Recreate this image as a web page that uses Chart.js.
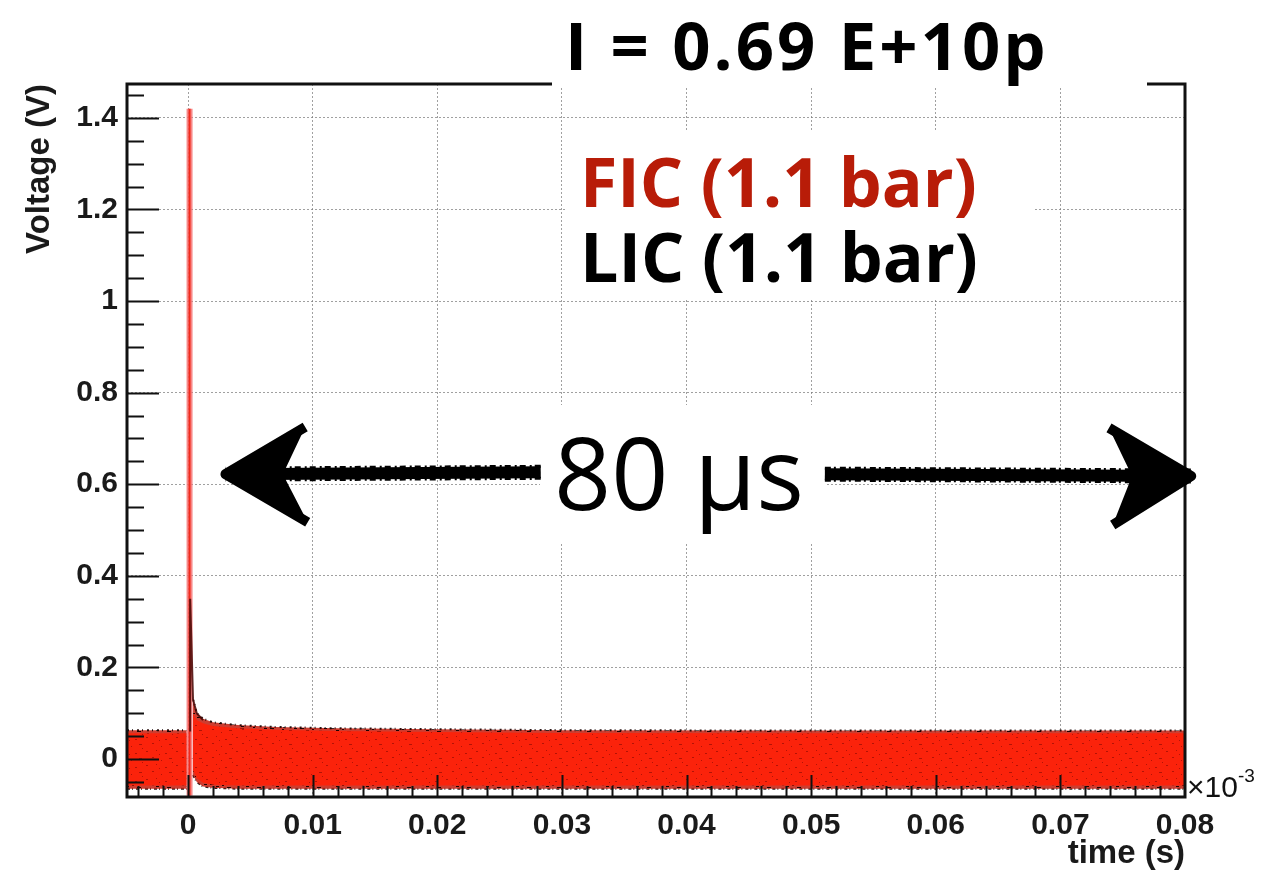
<!DOCTYPE html>
<html>
<head>
<meta charset="utf-8">
<script src="https://cdn.jsdelivr.net/npm/chart.js@4.4.1/dist/chart.umd.min.js"></script>
<style>
  html, body { margin: 0; padding: 0; background: #fff; }
  canvas { display: block; }
</style>
</head>
<body>
<canvas id="scope-chart" width="1283" height="874"></canvas>
<script>

// axes: time in units of 1e-3 s, voltage in V
var xTicks = [0, 0.01, 0.02, 0.03, 0.04, 0.05, 0.06, 0.07, 0.08];
var xTickLabels = ['0', '0.01', '0.02', '0.03', '0.04', '0.05', '0.06', '0.07', '0.08'];
var yTicks = [0, 0.2, 0.4, 0.6, 0.8, 1, 1.2, 1.4];
var yTickLabels = ['0', '0.2', '0.4', '0.6', '0.8', '1', '1.2', '1.4'];

// FIC trace: noise envelope before and after the beam pulse, plus the prompt peak
var ficBaseTime  = [-0.0049, -0.0001];
var ficBaseUpper = [0.056, 0.056];
var ficBaseLower = [-0.058, -0.058];
var ficTailTime  = [0.0004, 0.0007, 0.0012, 0.002, 0.004, 0.007, 0.012, 0.02, 0.03, 0.05, 0.08];
var ficTailUpper = [0.100, 0.085, 0.078, 0.072, 0.067, 0.064, 0.061, 0.059, 0.057, 0.056, 0.056];
var ficTailLower = [-0.025, -0.042, -0.052, -0.056, -0.058, -0.058, -0.058, -0.058, -0.058, -0.058, -0.058];
var ficPeakTime  = [0.00012, 0.00012];
var ficPeakVolt  = [-0.08, 1.42];

// LIC trace
var licBaseTime  = [-0.0049, -0.0001];
var licBaseUpper = [0.063, 0.063];
var licBaseLower = [-0.065, -0.065];
var licTailTime  = [0.0004, 0.0007, 0.0012, 0.002, 0.004, 0.007, 0.012, 0.02, 0.03, 0.05, 0.08];
var licTailUpper = [0.130, 0.100, 0.088, 0.080, 0.074, 0.070, 0.067, 0.065, 0.063, 0.062, 0.062];
var licTailLower = [-0.035, -0.050, -0.060, -0.063, -0.065, -0.065, -0.065, -0.065, -0.065, -0.065, -0.065];
var licPeakTime  = [0.00017, 0.00017, 0.0004, 0.0007, 0.0012];
var licPeakVolt  = [0.06, 0.35, 0.13, 0.10, 0.085];

var FIC_RED = '#fb230b';

// speckled fills so the overlapping traces read as dense noise
function speckle(base, dot, spots) {
  var c = document.createElement('canvas');
  c.width = 30; c.height = 14;
  var g = c.getContext('2d');
  g.fillStyle = base;
  g.fillRect(0, 0, c.width, c.height);
  g.fillStyle = dot;
  spots.forEach(function (s) { g.fillRect(s[0], s[1], s[2], 1); });
  return g.createPattern(c, 'repeat');
}
var ficFill = speckle(FIC_RED, 'rgba(90,0,0,0.45)',
  [[2, 1, 2], [11, 4, 1], [19, 2, 3], [26, 9, 2], [6, 8, 1], [15, 11, 2], [22, 6, 1], [9, 12, 1]]);
var licFill = speckle('rgba(200,40,25,0.9)', 'rgba(20,0,0,0.95)',
  [[0, 0, 4], [6, 2, 3], [12, 1, 2], [17, 3, 4], [24, 0, 3], [3, 7, 2], [9, 9, 3], [15, 6, 2], [21, 10, 3], [27, 5, 2], [1, 12, 3], [13, 13, 2]]);

function pts(t, v) {
  return t.map(function (x, i) { return {x: x, y: v[i]}; });
}

function band(t, up, lo, fill, edge, order) {
  return [
    {data: pts(t, up), borderWidth: edge ? 2 : 0, borderColor: edge, borderDash: [2, 3, 1, 4], backgroundColor: fill, fill: '+1', order: order},
    {data: pts(t, lo), borderWidth: edge ? 2 : 0, borderColor: edge, borderDash: [3, 2, 1, 3], fill: false, order: order}
  ];
}

var datasets = []
  .concat(band(licBaseTime, licBaseUpper, licBaseLower, licFill, 'rgba(25,0,0,0.9)', 5))
  .concat(band(licTailTime, licTailUpper, licTailLower, licFill, 'rgba(25,0,0,0.9)', 5))
  .concat(band(ficBaseTime, ficBaseUpper, ficBaseLower, ficFill, null, 4))
  .concat(band(ficTailTime, ficTailUpper, ficTailLower, ficFill, null, 4));

// peak: pale halo, then bright core, then the darker LIC pulse on top
datasets.push({data: pts(ficPeakTime, ficPeakVolt), borderColor: 'rgba(246,115,115,0.85)', borderWidth: 6, fill: false, order: 3});
datasets.push({data: pts(ficPeakTime, ficPeakVolt), borderColor: '#f22a1c', borderWidth: 2, fill: false, order: 2});
datasets.push({data: pts(licPeakTime, licPeakVolt), borderColor: 'rgba(70,8,6,0.85)', borderWidth: 2, fill: false, order: 1});

datasets.forEach(function (d) {
  d.pointRadius = 0;
  d.tension = 0;
});

var frameAndTicks = {
  id: 'frameAndTicks',
  afterDatasetsDraw: function (chart) {
    var ctx = chart.ctx, a = chart.chartArea;
    var xs = chart.scales.x, ys = chart.scales.y;
    ctx.save();
    ctx.strokeStyle = '#111';
    ctx.lineWidth = 2;
    ctx.beginPath();
    var i, v, px, len;
    for (i = -2; i <= 40; i++) {
      v = i * 0.002;
      px = Math.round(xs.getPixelForValue(v)) + 0.5;
      if (px < a.left || px > a.right) continue;
      len = (i % 5 === 0) ? 22 : 11;
      ctx.moveTo(px, a.bottom);
      ctx.lineTo(px, a.bottom - len);
    }
    for (i = -1; i <= 29; i++) {
      v = i * 0.05;
      px = Math.round(ys.getPixelForValue(v)) + 0.5;
      if (px < a.top || px > a.bottom) continue;
      len = (i % 4 === 0) ? 32 : 17;
      ctx.moveTo(a.left, px);
      ctx.lineTo(a.left + len, px);
    }
    ctx.stroke();
    ctx.lineWidth = 3;
    ctx.strokeRect(a.left, a.top, a.right - a.left, a.bottom - a.top);
    ctx.restore();
  }
};

// marker-pen double arrow: thick shaft, ragged edges, filled notched head
function roughArrow(ctx, tip, tail, wingA, wingB) {
  ctx.save();
  ctx.strokeStyle = '#000';
  ctx.fillStyle = '#000';
  ctx.lineCap = 'butt';
  ctx.lineJoin = 'round';
  ctx.lineWidth = 12;
  ctx.beginPath();
  ctx.moveTo(tail.x, tail.y);
  ctx.lineTo(tip.x, tip.y);
  ctx.stroke();
  ctx.lineWidth = 3;
  ctx.setLineDash([6, 3, 2, 4]);
  ctx.beginPath();
  ctx.moveTo(tail.x, tail.y - 6);
  ctx.lineTo(tip.x, tip.y - 6);
  ctx.moveTo(tail.x, tail.y + 6);
  ctx.lineTo(tip.x, tip.y + 6);
  ctx.stroke();
  ctx.setLineDash([]);
  ctx.lineWidth = 10;
  ctx.beginPath();
  ctx.moveTo(wingA.x, wingA.y);
  ctx.lineTo(tip.x, tip.y);
  ctx.lineTo(wingB.x, wingB.y);
  ctx.stroke();
  ctx.beginPath();
  ctx.moveTo(tip.x, tip.y);
  ctx.lineTo(wingA.x, wingA.y);
  ctx.lineTo(tip.x + (wingA.x - tip.x) * 0.72, tip.y);
  ctx.lineTo(wingB.x, wingB.y);
  ctx.closePath();
  ctx.fill();
  ctx.restore();
}

var overlay = {
  id: 'overlay',
  afterDraw: function (chart) {
    var ctx = chart.ctx, a = chart.chartArea;
    var xs = chart.scales.x, ys = chart.scales.y;
    function p(t, v) { return {x: xs.getPixelForValue(t), y: ys.getPixelForValue(v)}; }

    ctx.save();
    // white label boxes
    ctx.fillStyle = '#fff';
    ctx.fillRect(552, 0, 595, 88);
    ctx.fillRect(565, 130, 470, 168);
    ctx.fillRect(540, 405, 285, 137);

    ctx.textBaseline = 'alphabetic';
    ctx.textAlign = 'left';
    ctx.fillStyle = '#000';
    ctx.font = 'bold 67px "Open Sans"';
    ctx.letterSpacing = '3px';
    ctx.fillText('I = 0.69 E+10p', 565, 70);
    ctx.letterSpacing = '0px';

    ctx.font = 'bold 68px "Open Sans"';
    ctx.fillStyle = '#b81c08';
    ctx.fillText('FIC (1.1 bar)', 580, 207);
    ctx.fillStyle = '#000';
    ctx.fillText('LIC (1.1 bar)', 580, 282);

    ctx.font = '100px "Open Sans"';
    ctx.fillText('80 \u03bcs', 554, 510);

    // axis multiplier
    ctx.font = '30px "Liberation Sans"';
    ctx.fillStyle = '#111';
    ctx.fillText('\u00d710', a.right + 2, 797);
    var w = ctx.measureText('\u00d710').width;
    ctx.font = '19px "Liberation Sans"';
    ctx.fillText('-3', a.right + 2 + w, 782);
    ctx.restore();

    roughArrow(ctx, p(0.0030, 0.622), p(0.0283, 0.626), p(0.0094, 0.725), p(0.0096, 0.517));
    roughArrow(ctx, p(0.0805, 0.618), p(0.0511, 0.622), p(0.0739, 0.723), p(0.0742, 0.511));
  }
};

var chart = new Chart(document.getElementById('scope-chart'), {
  type: 'line',
  data: {datasets: datasets},
  options: {
    responsive: false,
    animation: false,
    devicePixelRatio: 1,
    layout: {padding: {top: 84, right: 98, left: 0, bottom: 0}},
    plugins: {legend: {display: false}, tooltip: {enabled: false}},
    scales: {
      x: {
        type: 'linear',
        min: -0.0049,
        max: 0.08,
        afterBuildTicks: function (s) { s.ticks = xTicks.map(function (v) { return {value: v}; }); },
        afterFit: function (s) { s.height = 77; },
        ticks: {
          autoSkip: false,
          maxRotation: 0,
          padding: 11,
          color: '#1a1a1a',
          font: {family: 'Liberation Sans', weight: 'bold', size: 30},
          callback: function (v, i) { return xTickLabels[i]; }
        },
        grid: {color: 'rgba(120,120,120,0.7)', lineWidth: 1, drawTicks: false},
        border: {display: false, dash: [2, 2]},
        title: {
          display: true,
          text: 'time (s)',
          align: 'end',
          color: '#1a1a1a',
          font: {family: 'Liberation Sans', weight: 'bold', size: 33},
          padding: {top: 0, bottom: 0}
        }
      },
      y: {
        type: 'linear',
        min: -0.083,
        max: 1.474,
        afterBuildTicks: function (s) { s.ticks = yTicks.map(function (v) { return {value: v}; }); },
        afterFit: function (s) { s.width = 127; },
        ticks: {
          padding: 9,
          color: '#1a1a1a',
          font: {family: 'Liberation Sans', weight: 'bold', size: 30},
          callback: function (v, i) { return yTickLabels[i]; }
        },
        grid: {color: 'rgba(120,120,120,0.7)', lineWidth: 1, drawTicks: false},
        border: {display: false, dash: [2, 2]},
        title: {
          display: true,
          text: 'Voltage (V)',
          align: 'end',
          color: '#1a1a1a',
          font: {family: 'Liberation Sans', weight: 'bold', size: 33},
          padding: {top: 20, bottom: 0}
        }
      }
    }
  },
  plugins: [frameAndTicks, overlay]
});

</script>
</body>
</html>
